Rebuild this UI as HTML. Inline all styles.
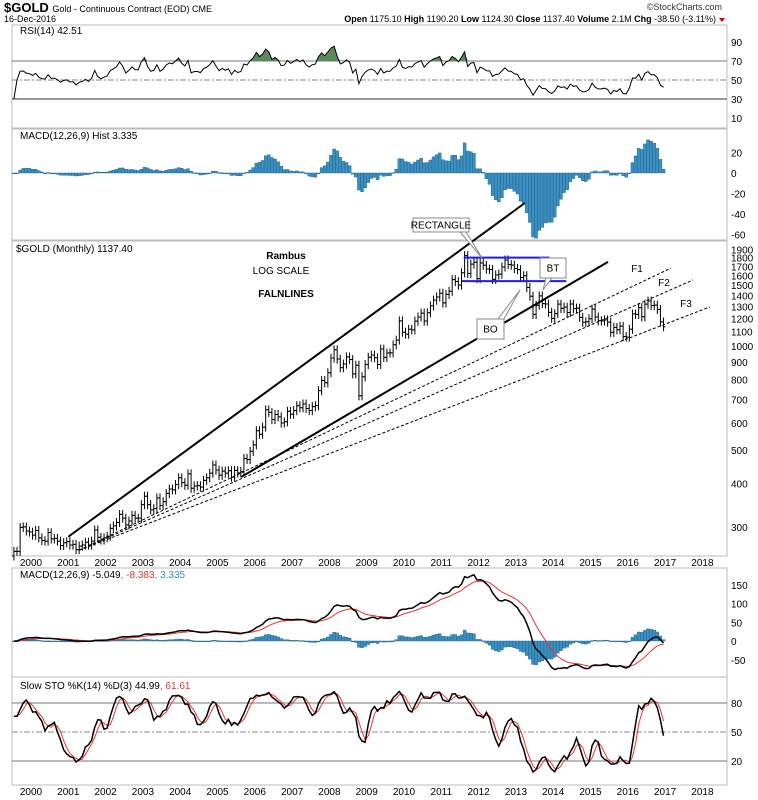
<!DOCTYPE html>
<html><head><meta charset="utf-8">
<style>
body{margin:0;background:#fff;}
svg{display:block;font-family:"Liberation Sans",sans-serif;}
.t{font-size:10px;fill:#000;}
</style></head>
<body>
<svg id="c" width="758" height="800" xmlns="http://www.w3.org/2000/svg">
<rect width="758" height="800" fill="#fff"/>
<text x="4" y="12" font-size="13" font-weight="bold">$GOLD <tspan font-size="9" font-weight="normal">Gold - Continuous Contract (EOD) CME</tspan></text>
<text x="4" y="22" font-size="9">16-Dec-2016</text>
<text x="722" y="10" font-size="9" text-anchor="end" fill="#333">©StockCharts.com</text>
<text x="716" y="22" font-size="9" text-anchor="end"><tspan font-weight="bold">Open</tspan> 1175.10 <tspan font-weight="bold">High</tspan> 1190.20 <tspan font-weight="bold">Low</tspan> 1124.30 <tspan font-weight="bold">Close</tspan> 1137.40 <tspan font-weight="bold">Volume</tspan> 2.1M <tspan font-weight="bold">Chg</tspan> -38.50 (-3.11%)</text>
<path d="M719 18 l6 0 l-3 4z" fill="#c00"/>
<g id="g"></g>
</svg>
<script>
const startYear = 1999.5;
const closes = [255,255,299,300,292,290,
284,293,279,274,273,289,277,278,273,265,270,272,
266,267,258,264,266,271,266,273,294,280,275,279,
282,297,302,309,326,318,304,312,324,318,318,348,
368,348,336,339,364,346,355,375,386,384,398,416,
403,396,427,388,394,395,391,409,416,429,453,438,
423,435,429,436,418,437,430,434,473,470,496,518,
569,556,583,654,643,613,634,624,599,604,648,635,
651,672,663,680,660,651,668,673,743,795,783,837,
923,975,917,866,887,930,914,831,880,718,815,884,
928,942,925,884,980,927,955,955,1008,1040,1182,1096,
1082,1118,1113,1180,1213,1245,1181,1248,1307,1357,1386,1421,
1332,1410,1439,1556,1536,1500,1628,1825,1620,1725,1746,1566,
1737,1711,1669,1664,1558,1604,1614,1692,1773,1720,1713,1675,
1663,1578,1596,1476,1393,1234,1312,1396,1326,1323,1251,1202,
1240,1321,1284,1295,1250,1322,1282,1287,1210,1171,1175,1199,
1278,1213,1183,1182,1190,1172,1095,1132,1114,1141,1065,1061,
1118,1238,1234,1291,1215,1321,1349,1309,1313,1276,1174,1137];
const yearLabels = [2000,2001,2002,2003,2004,2005,2006,2007,2008,2009,2010,2011,2012,2013,2014,2015,2016,2017,2018];
const priceTicks = [300,400,500,600,700,800,900,1000,1100,1200,1300,1400,1500,1600,1700,1800,1900];
const rsiTicks = [90,70,50,30,10];
const macdTopTicks = [20,0,-20,-40,-60];
const macdTicks = [150,100,50,0,-50];
const stoTicks = [80,50,20];

const NS="http://www.w3.org/2000/svg";
const G=document.getElementById('g');
function el(tag,attrs,parent){const e=document.createElementNS(NS,tag);for(const k in attrs)e.setAttribute(k,attrs[k]);(parent||G).appendChild(e);return e;}
const L=12,R=727;
const xT=t=>31+(t-2000)*37.3;
const xI=i=>xT(startYear+i/12+1/24);
const yP=p=>346-346*Math.log10(p/1000);
const yRSI=v=>61+(70-v)*0.95;
const yMT=v=>173-v*1.025;
const yM=v=>641-v*0.375;
const yS=v=>732-(v-50)*0.967;

const panels=[['rsi-panel',25,128],['macd-hist-panel',129,240],['price-panel',241,556],['macd-panel',568,677],['sto-panel',677,785]];
panels.forEach(p=>{const r=el('rect',{x:L,y:p[1],width:R-L,height:p[2]-p[1],fill:'none',stroke:'#bbb'});

});

function label(x,y,txt,name,anchor,extra){const t=el('text',Object.assign({x:x,y:y,class:'t','text-anchor':anchor||'start'},extra||{}));t.textContent=txt;

return t;}
function hline(y,color,dash,name,w){const l=el('line',{x1:L,x2:R,y1:y,y2:y,stroke:color,'stroke-width':w||1,'stroke-dasharray':dash||''});

}

[562,791].forEach(yy=>yearLabels.forEach(yr=>label(xT(yr),yy+4,String(yr),'x-axis-label','middle')));

const n=closes.length;
const opens=closes.map((c,i)=>i?closes[i-1]:c*0.97);
const highs=closes.map((c,i)=>Math.max(c,opens[i])*1.03);
const lows=closes.map((c,i)=>Math.min(c,opens[i])*0.97);
function ema(a,p){const k=2/(p+1);let o=[],v=a[0];a.forEach((x,i)=>{v=i?x*k+v*(1-k):x;o.push(v);});return o;}
const e12=ema(closes,12),e26=ema(closes,26);
const macd=closes.map((c,i)=>e12[i]-e26[i]);
const sig=ema(macd,9);
const hist=macd.map((m,i)=>m-sig[i]);
let rsi=[],ag=8,al=8;
for(let i=0;i<n;i++){if(i===0){rsi.push(30);continue;}const d=closes[i]-closes[i-1];const g=Math.max(d,0),l=Math.max(-d,0);ag=(ag*13+g)/14;al=(al*13+l)/14;rsi.push(100-100/(1+ag/al));}
let fk=[];for(let i=0;i<n;i++){const s=Math.max(0,i-13);let hh=-1e9,ll=1e9;for(let j=s;j<=i;j++){hh=Math.max(hh,highs[j]);ll=Math.min(ll,lows[j]);}fk.push(100*(closes[i]-ll)/(hh-ll));}
const sma=(a,p)=>a.map((v,i)=>{const s=Math.max(0,i-p+1);let t=0;for(let j=s;j<=i;j++)t+=a[j];return t/(i-s+1);});
const sk=sma(fk,3),sd=sma(sk,3);
function poly(vals,yf,color,w,name){const d=vals.map((v,i)=>(i?'L':'M')+xI(i).toFixed(1)+' '+yf(v).toFixed(1)).join('');const p=el('path',{d:d,fill:'none',stroke:color,'stroke-width':w});

return p;}

// RSI
rsiTicks.forEach(v=>label(731,yRSI(v)+4,String(v),'rsi-tick'));
hline(yRSI(70),'#777','', 'rsi-70-line');hline(yRSI(30),'#999','','rsi-30-line',2);hline(yRSI(50),'#888','6,2,2,2','rsi-50-line');
{let d='M'+xI(0)+' '+yRSI(70);rsi.forEach((v,i)=>{d+='L'+xI(i).toFixed(1)+' '+yRSI(Math.max(v,70)).toFixed(1);});d+='L'+xI(n-1)+' '+yRSI(70)+'Z';const a=el('path',{d:d,fill:'#5a8a5a',stroke:'none'});

}
poly(rsi,yRSI,'#000',1,'rsi-line');
label(20,34,'RSI(14) 42.51','rsi-title');

// MACD histogram top
macdTopTicks.forEach(v=>label(731,yMT(v)+4,String(v),'macd-hist-tick'));
hist.forEach((h,i)=>{const y0=yMT(0),y1=yMT(h);const b=el('rect',{x:xI(i)-1.5,y:Math.min(y0,y1),width:3,height:Math.max(Math.abs(y1-y0),0.8),fill:'#3a8fc0',stroke:'#1c5f8a','stroke-width':0.4});

});
label(20,139,'MACD(12,26,9) Hist 3.335','macd-hist-title');

// Price panel
priceTicks.forEach(v=>label(731,yP(v)+4,String(v),'price-tick'));
closes.forEach((c,i)=>{const x=xI(i);const b=el('path',{d:`M${x} ${yP(highs[i])}V${yP(lows[i])}M${x-2} ${yP(opens[i])}H${x}M${x} ${yP(c)}H${x+2}`,stroke:'#000','stroke-width':1,fill:'none'});

});
label(16,252,'$GOLD (Monthly) 1137.40','price-title');
function tl(t1,p1,t2,p2,w,dash,name){const l=el('line',{x1:xT(t1),y1:yP(p1),x2:xT(t2),y2:yP(p2),stroke:'#000','stroke-width':w,'stroke-dasharray':dash||''});

}
tl(2001.0,281,2013.24,2590,2,'','upper-trendline');
tl(2005.63,418,2015.47,1750,2,'','lower-trendline');
tl(2001.29,257,2017.16,1680,1,'3,2','fan-line-f1');
tl(2001.29,257,2017.75,1552,1,'3,2','fan-line-f2');
tl(2001.29,257,2018.2,1297,1,'3,2','fan-line-f3');
function bl(t1,t2,p,name){const l=el('line',{x1:xT(t1),x2:xT(t2),y1:yP(p),y2:yP(p),stroke:'#1a1aff','stroke-width':2});

}
bl(2011.6,2013.9,1800,'rectangle-top');bl(2011.55,2014.35,1540,'rectangle-bottom');
label(286,259,'Rambus','rambus-label','middle',{'font-weight':'bold'});
label(281,274,'LOG SCALE','log-scale-label','middle');
label(286,297,'FALNLINES','falnlines-label','middle',{'font-size':'12','font-weight':'bold'});
label(637,272,'F1','f1-label','middle',{'font-size':'11'});
label(664,286,'F2','f2-label','middle',{'font-size':'11'});
label(686,307,'F3','f3-label','middle',{'font-size':'11'});
function callout(x,y,w,h,txt,name,px,py,ax,ay){const pt=el('path',{d:`M${ax} ${ay}L${px} ${py}L${ax+6} ${ay}`,fill:'#fff',stroke:'#888'});


const r=el('rect',{x:x,y:y,width:w,height:h,fill:'#fff',stroke:'#888'});


label(x+w/2,y+h/2+3.5,txt,name+'-text','middle',{fill:'#1a1aff','font-size':'9'});}
callout(413,218,56,14,'RECTANGLE','rectangle-callout',482,258,460,232);
callout(540,258,26,20,'BT','bt-callout',543,290,546,278);
callout(477,319,27,20,'BO','bo-callout',520,290,498,319);

// MACD panel
macdTicks.forEach(v=>label(731,yM(v)+4,String(v),'macd-tick'));
hist.forEach((h,i)=>{const y0=yM(0),y1=yM(h);const b=el('rect',{x:xI(i)-1.5,y:Math.min(y0,y1),width:3,height:Math.max(Math.abs(y1-y0),0.8),fill:'#3a8fc0',stroke:'#1c5f8a','stroke-width':0.4});

});
poly(sig,yM,'#e33',1,'macd-signal-line');
poly(macd,yM,'#000',1.5,'macd-line');
label(20,578,'MACD(12,26,9) -5.049','macd-title').innerHTML='MACD(12,26,9) -5.049<tspan fill="#e33">, -8.383</tspan><tspan fill="#3a8fc0">, 3.335</tspan>';

// STO panel
stoTicks.forEach(v=>label(731,yS(v)+4,String(v),'sto-tick'));
hline(yS(80),'#777','','sto-80-line');hline(yS(20),'#777','','sto-20-line');hline(yS(50),'#888','6,2,2,2','sto-50-line');
poly(sd,yS,'#e33',1,'sto-d-line');
poly(sk,yS,'#000',1.5,'sto-k-line');
label(20,689,'Slow STO','sto-title').innerHTML='Slow STO %K(14) %D(3) 44.99<tspan fill="#e33">, 61.61</tspan>';
</script>
</body></html>
